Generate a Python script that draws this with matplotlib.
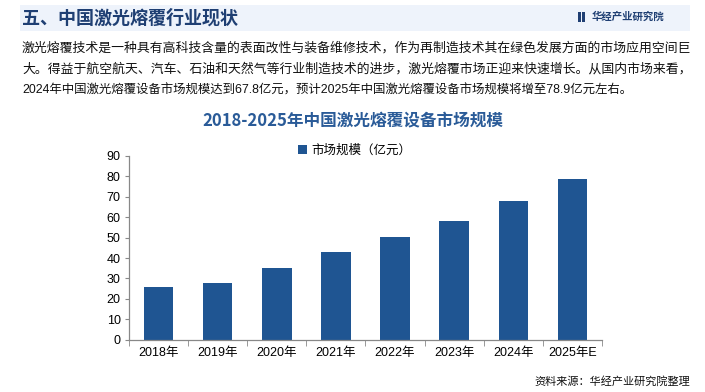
import matplotlib
matplotlib.use("Agg")
import matplotlib.pyplot as plt
from matplotlib.patches import Rectangle

plt.rcParams['font.family'] = ['Noto Sans CJK SC', 'DejaVu Sans']

categories = ['2018年', '2019年', '2020年', '2021年', '2022年', '2023年', '2024年', '2025年E']
values = [25.8, 27.7, 35.1, 42.9, 50.3, 58.1, 67.8, 78.9]
yticks = [0, 10, 20, 30, 40, 50, 60, 70, 80, 90]

header = '五、中国激光熔覆行业现状'
logo = '华经产业研究院'
para = ['激光熔覆技术是一种具有高科技含量的表面改性与装备维修技术，作为再制造技术其在绿色发展方面的市场应用空间巨',
        '大。得益于航空航天、汽车、石油和天然气等行业制造技术的进步，激光熔覆市场正迎来快速增长。从国内市场来看，',
        '2024年中国激光熔覆设备市场规模达到67.8亿元，预计2025年中国激光熔覆设备市场规模将增至78.9亿元左右。']
title = '2018-2025年中国激光熔覆设备市场规模'
legend_label = '市场规模（亿元）'
source = '资料来源：华经产业研究院整理'

W, H = 705, 392
fig = plt.figure(figsize=(W/100, H/100), dpi=100)
fig.patch.set_facecolor('white')

# header band
fig.patches.append(Rectangle((20/W, 1-31/H), 670/W, 26/H, transform=fig.transFigure,
                             facecolor='#eef3fb', edgecolor='none', zorder=0))
fig.text(22/W, 1-18/H, header, fontsize=13, fontweight='bold', color='#1f3f73', va='center', ha='left')
fig.patches.append(Rectangle((578/W, 1-22/H), 2.5/W, 10/H, transform=fig.transFigure,
                             facecolor='#1f3f73', edgecolor='none'))
fig.patches.append(Rectangle((582/W, 1-22/H), 2.5/W, 10/H, transform=fig.transFigure,
                             facecolor='#1f3f73', edgecolor='none'))
fig.text(592/W, 1-17/H, logo, fontsize=7.5, fontweight='bold', color='#1f3f73', va='center', ha='left')

para_sizes = [9.25, 9.25, 8.95]
for i, line in enumerate(para):
    fig.text(22/W, 1-(48 + i*21.5)/H, line, fontsize=para_sizes[i], color='#111111', va='center', ha='left',
             family=['Liberation Sans', 'Noto Sans CJK SC'])

fig.text(353/W, 1-121/H, title, fontsize=12, fontweight='bold', color='#2a5b98', va='center', ha='center')

ax = fig.add_axes([129/W, 1-339.7/H, (602-129)/W, (339.7-155.9)/H])
x = list(range(len(categories)))
bars = ax.bar(x, values, width=0.5, color='#1f5592', label=legend_label, zorder=2)
ax.set_xlim(-0.5, len(categories)-0.5)
ax.set_ylim(0, 90)
ax.set_yticks(yticks)
ax.set_yticklabels([str(v) for v in yticks], fontsize=9, family=['Liberation Sans', 'Noto Sans CJK SC'])
ax.set_xticks(x)
ax.set_xticklabels(categories, fontsize=9, family=['Liberation Sans', 'Noto Sans CJK SC'])
ax.tick_params(axis='x', length=0, pad=5)
ax.set_xticks([i + 0.5 for i in range(-1, len(categories))], minor=True)
ax.tick_params(axis='x', which='minor', length=4, color='#888888', direction='out')
ax.tick_params(axis='y', length=3, color='#888888', direction='out', pad=3)
for s in ['top', 'right']:
    ax.spines[s].set_visible(False)
for s in ['left', 'bottom']:
    ax.spines[s].set_color('#888888')
    ax.spines[s].set_linewidth(0.9)
ax.set_facecolor('none')

leg = fig.legend(handles=[bars], labels=[legend_label], loc='center', bbox_to_anchor=(355/W, 1-150/H),
                 frameon=False, fontsize=9, handlelength=0.7, handleheight=0.7, handletextpad=0.4)

fig.text(690/W, 1-381/H, source, fontsize=8, color='#111111', va='center', ha='right')

fig.savefig('out.png', dpi=100, facecolor='white')
